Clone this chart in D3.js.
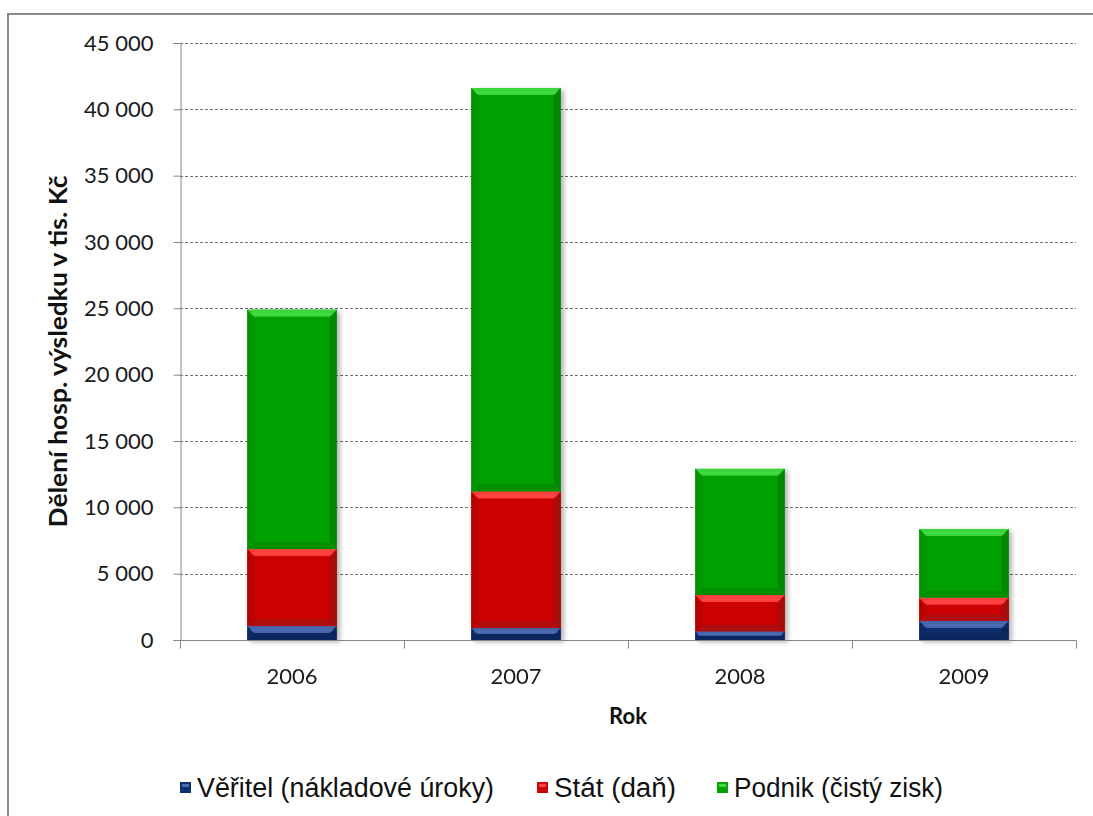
<!DOCTYPE html>
<html>
<head>
<meta charset="utf-8">
<script src="https://cdn.jsdelivr.net/npm/d3@7"></script>
<style>
  html, body { margin: 0; padding: 0; background: #fff; }
  svg { display: block; }
</style>
</head>
<body>
<script>
// Rozdělení hospodářského výsledku (tis. Kč) mezi věřitele, stát a podnik
const years = ["2006", "2007", "2008", "2009"];
const veritel = [1050, 900, 650, 1430];
const stat = [5800, 10300, 2740, 1760];
const podnik = [18050, 30400, 9510, 5180];
const yTicks = [0, 5000, 10000, 15000, 20000, 25000, 30000, 35000, 40000, 45000];
const seriesNames = ["Věřitel (nákladové úroky)", "Stát (daň)", "Podnik (čistý zisk)"];

const W = 1093, H = 816;
const margin = { left: 180, right: 17, top: 43, bottom: 176 };
const plotW = W - margin.left - margin.right;
const plotH = H - margin.top - margin.bottom;

const palette = [
  { base: "#102f6e", light: "#4a6cb4", dark: "#0a1f4c", side: "#0d2860" },
  { base: "#cc0606", light: "#ff4545", dark: "#8e0a0a", side: "#b00505" },
  { base: "#05a005", light: "#40dc40", dark: "#047a04", side: "#048e04" }
];

const svg = d3.select("body").append("svg")
  .attr("width", W).attr("height", H);

// outer chart frame
svg.append("rect")
  .attr("x", 8).attr("y", 14)
  .attr("width", W + 20).attr("height", H + 20)
  .attr("fill", "#fff").attr("stroke", "#8a8a8a").attr("stroke-width", 2);

const defs = svg.append("defs");
const shadow = defs.append("filter").attr("id", "barShadow")
  .attr("x", "-20%").attr("y", "-5%").attr("width", "140%").attr("height", "115%");
shadow.append("feDropShadow")
  .attr("dx", 3).attr("dy", 2).attr("stdDeviation", 2.5)
  .attr("flood-color", "#000").attr("flood-opacity", 0.3);

const g = svg.append("g").attr("transform", `translate(${margin.left},${margin.top})`);

const x = d3.scaleBand().domain(years).range([0, plotW]).paddingInner(0.6).paddingOuter(0.3);
const y = d3.scaleLinear().domain([0, 45000]).range([plotH, 0]);

// horizontal dashed gridlines
g.append("g").selectAll("line")
  .data(yTicks.filter(t => t > 0))
  .join("line")
  .attr("x1", 0).attr("x2", plotW)
  .attr("y1", d => Math.round(y(d)) + 0.5).attr("y2", d => Math.round(y(d)) + 0.5)
  .attr("stroke", "#6e6e6e").attr("stroke-width", 1)
  .attr("stroke-dasharray", "3,2");

// y axis
const fmt = d3.formatLocale({ decimal: ",", thousands: " ", grouping: [3], currency: ["", " Kč"] }).format(",d");
const yAxis = g.append("g")
  .attr("transform", "translate(0.5,0)")
  .call(d3.axisLeft(y).tickValues(yTicks).tickFormat(fmt).tickSize(7).tickPadding(20));
yAxis.select(".domain").attr("stroke", "#868686");
yAxis.selectAll(".tick line").attr("stroke", "#868686");
yAxis.selectAll(".tick text")
  .attr("font-family", "Lato, 'Open Sans', sans-serif")
  .attr("font-size", 22).attr("fill", "#1a1a1a");

// stacked data
const rows = years.map((yr, i) => ({ year: yr, v0: veritel[i], v1: stat[i], v2: podnik[i] }));
const stack = d3.stack().keys(["v0", "v1", "v2"])(rows);

const bars = g.append("g").attr("filter", "url(#barShadow)");

stack.forEach((layer, si) => {
  const c = palette[si];
  layer.forEach(seg => {
    const x0 = x(seg.data.year);
    const w = x.bandwidth();
    const yTop = y(seg[1]);
    const yBot = y(seg[0]);
    const h = yBot - yTop;
    const b = Math.min(7, h / 2);
    const sg = bars.append("g");
    sg.append("rect").attr("x", x0).attr("y", yTop).attr("width", w).attr("height", h).attr("fill", c.base);
    // bevel faces: top (highlight), bottom (shade), sides
    const pts = a => a.map(p => p.join(",")).join(" ");
    sg.append("polygon").attr("fill", c.light).attr("opacity", 0.9)
      .attr("points", pts([[x0, yTop], [x0 + w, yTop], [x0 + w - b, yTop + b], [x0 + b, yTop + b]]));
    sg.append("polygon").attr("fill", c.dark).attr("opacity", 0.45)
      .attr("points", pts([[x0, yBot], [x0 + w, yBot], [x0 + w - b, yBot - b], [x0 + b, yBot - b]]));
    sg.append("polygon").attr("fill", c.side).attr("opacity", 0.7)
      .attr("points", pts([[x0, yTop], [x0 + b, yTop + b], [x0 + b, yBot - b], [x0, yBot]]));
    sg.append("polygon").attr("fill", c.dark).attr("opacity", 0.6)
      .attr("points", pts([[x0 + w, yTop], [x0 + w - b, yTop + b], [x0 + w - b, yBot - b], [x0 + w, yBot]]));
    // thin bright line along the top bevel
    sg.append("rect").attr("x", x0 + b * 0.6).attr("y", yTop + b * 0.45).attr("width", w - b * 1.2)
      .attr("height", Math.min(2, h / 4)).attr("fill", c.light);
  });
});

// x axis
const xAxisG = g.append("g").attr("transform", `translate(0,${plotH + 0.5})`);
xAxisG.append("line").attr("x1", 0).attr("x2", plotW).attr("stroke", "#868686");
const boundaries = d3.range(years.length + 1).map(i => i * plotW / years.length);
xAxisG.selectAll("line.tk").data(boundaries).join("line").attr("class", "tk")
  .attr("x1", d => Math.round(d) + 0.5).attr("x2", d => Math.round(d) + 0.5)
  .attr("y1", 0).attr("y2", 8).attr("stroke", "#868686");
xAxisG.selectAll("text").data(years).join("text")
  .attr("x", d => x(d) + x.bandwidth() / 2).attr("y", 43)
  .attr("text-anchor", "middle")
  .attr("font-family", "Lato, 'Open Sans', sans-serif")
  .attr("font-size", 22).attr("fill", "#1a1a1a")
  .text(d => d);

// axis titles
svg.append("text")
  .attr("x", margin.left + plotW / 2).attr("y", 724)
  .attr("text-anchor", "middle")
  .attr("font-family", "Lato, 'Open Sans', sans-serif")
  .attr("font-weight", "bold").attr("font-size", 22).attr("fill", "#111")
  .text("Rok");

svg.append("text")
  .attr("transform", `translate(67,${margin.top + plotH / 2 + 10}) rotate(-90)`)
  .attr("text-anchor", "middle")
  .attr("font-family", "Lato, 'Open Sans', sans-serif")
  .attr("font-weight", "bold").attr("font-size", 25).attr("fill", "#111")
  .attr("textLength", 352).attr("lengthAdjust", "spacingAndGlyphs")
  .text("Dělení hosp. výsledku v tis. Kč");

// legend
const legendX = [180, 537, 717];
const legendW = [297, 122, 209];
const legend = svg.append("g").attr("transform", "translate(0,787)");
seriesNames.forEach((name, i) => {
  const c = palette[i];
  const lg = legend.append("g").attr("transform", `translate(${legendX[i]},0)`);
  lg.append("rect").attr("x", 0).attr("y", -5).attr("width", 11).attr("height", 11).attr("fill", c.base);
  lg.append("rect").attr("x", 2).attr("y", -3).attr("width", 7).attr("height", 3).attr("fill", c.light);
  lg.append("text").attr("x", 17).attr("y", 10)
    .attr("font-family", "'Liberation Sans', Arial, sans-serif")
    .attr("font-size", 27).attr("fill", "#111")
    .attr("textLength", legendW[i]).attr("lengthAdjust", "spacingAndGlyphs")
    .text(name);
});
</script>
</body>
</html>
